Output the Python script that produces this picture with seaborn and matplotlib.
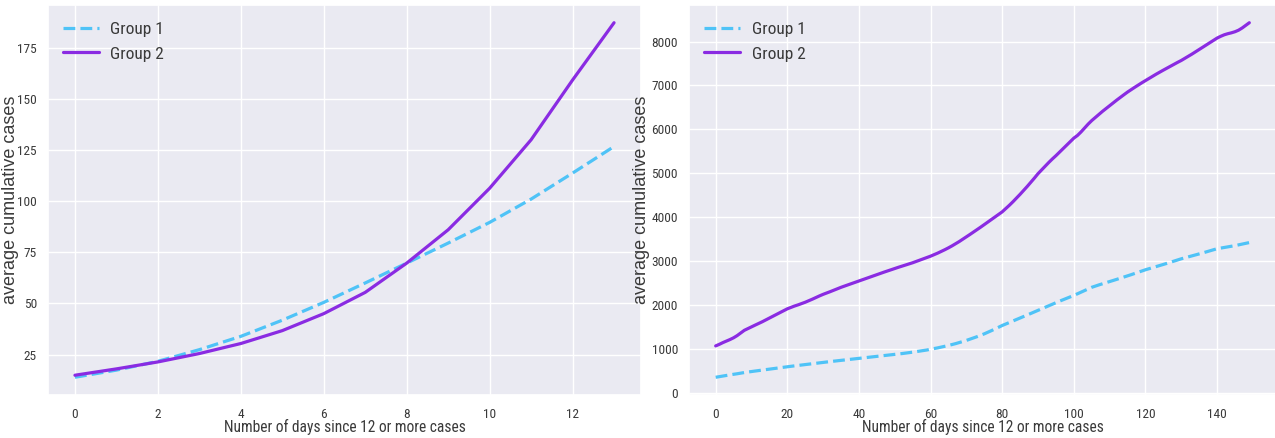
import numpy as np
import pandas as pd
import matplotlib
matplotlib.use("Agg")
import matplotlib.pyplot as plt
from matplotlib import font_manager
from matplotlib.font_manager import FontProperties
import seaborn as sns

# ---- data: left panel (first 14 days) ----
days_short = list(range(14))
g1_short = [13.9, 17.4, 21.7, 27.4, 33.9, 41.8, 50.5, 60.0, 69.7, 79.5, 89.6, 101.0, 113.7, 126.7]
g2_short = [14.9, 18.0, 21.4, 25.5, 30.4, 36.7, 45.0, 55.4, 69.7, 86.0, 106.3, 130.0, 159.2, 187.2]

# ---- data: right panel (150 days) ----
days_long = list(range(150))
g1_long = [
    350, 365, 378, 392, 405, 418, 430, 445, 458, 470,
    480, 492, 503, 514, 525, 536, 547, 558, 569, 580,
    590, 600, 610, 620, 630, 640, 650, 660, 670, 680,
    690, 699, 708, 717, 726, 735, 744, 753, 762, 771,
    780, 789, 798, 807, 816, 825, 834, 843, 852, 861,
    870, 880, 890, 900, 911, 922, 934, 946, 959, 972,
    990, 1005, 1020, 1038, 1056, 1075, 1095, 1117, 1140, 1165,
    1190, 1218, 1246, 1276, 1307, 1340, 1376, 1413, 1451, 1490,
    1530, 1565, 1598, 1632, 1666, 1700, 1735, 1770, 1805, 1840,
    1875, 1910, 1945, 1980, 2015, 2050, 2084, 2117, 2150, 2183,
    2215, 2252, 2290, 2328, 2365, 2400, 2428, 2455, 2480, 2505,
    2530, 2556, 2582, 2608, 2634, 2660, 2688, 2716, 2744, 2772,
    2800, 2824, 2848, 2872, 2896, 2920, 2946, 2972, 2998, 3024,
    3050, 3072, 3094, 3116, 3138, 3160, 3184, 3208, 3232, 3256,
    3280, 3294, 3308, 3322, 3336, 3350, 3368, 3385, 3402, 3420,
]
g2_long = [
    1065, 1100, 1140, 1175, 1210, 1250, 1300, 1360, 1420, 1460,
    1500, 1538, 1576, 1615, 1657, 1700, 1740, 1782, 1825, 1868,
    1910, 1942, 1973, 2000, 2030, 2060, 2095, 2130, 2168, 2205,
    2240, 2270, 2302, 2335, 2368, 2400, 2430, 2458, 2487, 2516,
    2545, 2574, 2603, 2632, 2661, 2690, 2718, 2746, 2774, 2802,
    2830, 2856, 2882, 2908, 2934, 2960, 2990, 3020, 3050, 3080,
    3110, 3145, 3180, 3218, 3258, 3300, 3345, 3393, 3443, 3496,
    3550, 3605, 3660, 3715, 3772, 3830, 3888, 3946, 4004, 4062,
    4120, 4195, 4270, 4350, 4435, 4520, 4610, 4700, 4795, 4890,
    4990, 5075, 5160, 5245, 5325, 5400, 5480, 5560, 5640, 5720,
    5800, 5860, 5940, 6030, 6120, 6200, 6270, 6340, 6410, 6475,
    6540, 6605, 6668, 6730, 6790, 6850, 6905, 6958, 7010, 7062,
    7110, 7160, 7210, 7258, 7305, 7350, 7395, 7440, 7485, 7528,
    7570, 7618, 7666, 7716, 7768, 7820, 7872, 7924, 7976, 8028,
    8080, 8120, 8155, 8180, 8200, 8225, 8260, 8310, 8370, 8430,
]

group_names = ["Group 1", "Group 2"]
xlabel = "Number of days since 12 or more cases"
ylabel = "average cumulative cases"

sns.set_theme(style="darkgrid")
plt.rcParams["font.family"] = ["Liberation Sans", "DejaVu Sans"]

# look for a narrow / condensed face to imitate the squeezed lettering
def find_narrow():
    prefs = ["liberation sans narrow", "roboto condensed", "open sans condensed",
             "noto sans", "dejavu sans", "roboto", "open sans"]
    found = []
    for f in font_manager.fontManager.ttflist:
        nm = f.name.lower()
        fn = f.fname.lower()
        base = fn.split("/")[-1]
        is_narrow = ("narrow" in nm or "condensed" in nm or "narrow" in base
                     or "condensed" in base or f.stretch in ("condensed", "semi-condensed", "extra-condensed"))
        if not is_narrow or f.style != "normal":
            continue
        if f.weight not in (400, "normal", "regular"):
            continue
        stripped = base.replace("semicondensed", "")
        if any(k in stripped for k in ("bold", "italic", "light", "medium", "black", "thin", "semi", "extra")):
            continue
        rank = len(prefs)
        for i, p in enumerate(prefs):
            if nm.startswith(p):
                rank = i
                break
        found.append((rank, fn, f))
    if not found:
        return None
    found.sort(key=lambda t: (t[0], t[1]))
    return found[0][2].fname

narrow_path = find_narrow()

def fp(size):
    if narrow_path:
        return FontProperties(fname=narrow_path, size=size)
    return FontProperties(family=["Liberation Sans", "DejaVu Sans"], size=size * 0.85)

text_color = "#3a3a3a"

fig = plt.figure(figsize=(12.75, 4.38), dpi=100)
W, H = 1275.0, 438.0
ax1 = fig.add_axes([48 / W, 43 / H, 593 / W, 390 / H])
ax2 = fig.add_axes([689 / W, 43 / H, 587 / W, 390 / H])

c1 = "#4fc3f7"
c2 = "#8a2be2"

for ax, days, g1, g2, ylx in [(ax1, days_short, g1_short, g2_short, -0.049),
                              (ax2, days_long, g1_long, g2_long, -0.067)]:
    df = pd.DataFrame({"day": days, group_names[0]: g1, group_names[1]: g2})
    sns.lineplot(data=df, x="day", y=group_names[0], ax=ax, color=c1,
                 linestyle="--", linewidth=2.3, label=group_names[0])
    sns.lineplot(data=df, x="day", y=group_names[1], ax=ax, color=c2,
                 linewidth=2.3, label=group_names[1])
    ax.set_xlabel(xlabel, fontproperties=fp(11.2), color=text_color)
    ax.xaxis.set_label_coords(0.5, -0.062)
    ax.set_ylabel(ylabel, fontsize=13, color=text_color)
    ax.yaxis.set_label_coords(ylx, 0.5)
    ax.tick_params(axis="x", pad=3, colors=text_color)
    ax.tick_params(axis="y", pad=2, colors=text_color)
    for lbl in ax.get_xticklabels() + ax.get_yticklabels():
        lbl.set_fontproperties(fp(9.6))
        lbl.set_color(text_color)
    leg = ax.legend(loc="upper left", bbox_to_anchor=(0.0, 0.995), frameon=False,
                    prop=fp(12.5), handlelength=2.1, handletextpad=0.65,
                    borderaxespad=0.45, borderpad=0.4, labelspacing=0.55)
    for t in leg.get_texts():
        t.set_color(text_color)

fig.savefig("out.png", dpi=100)
